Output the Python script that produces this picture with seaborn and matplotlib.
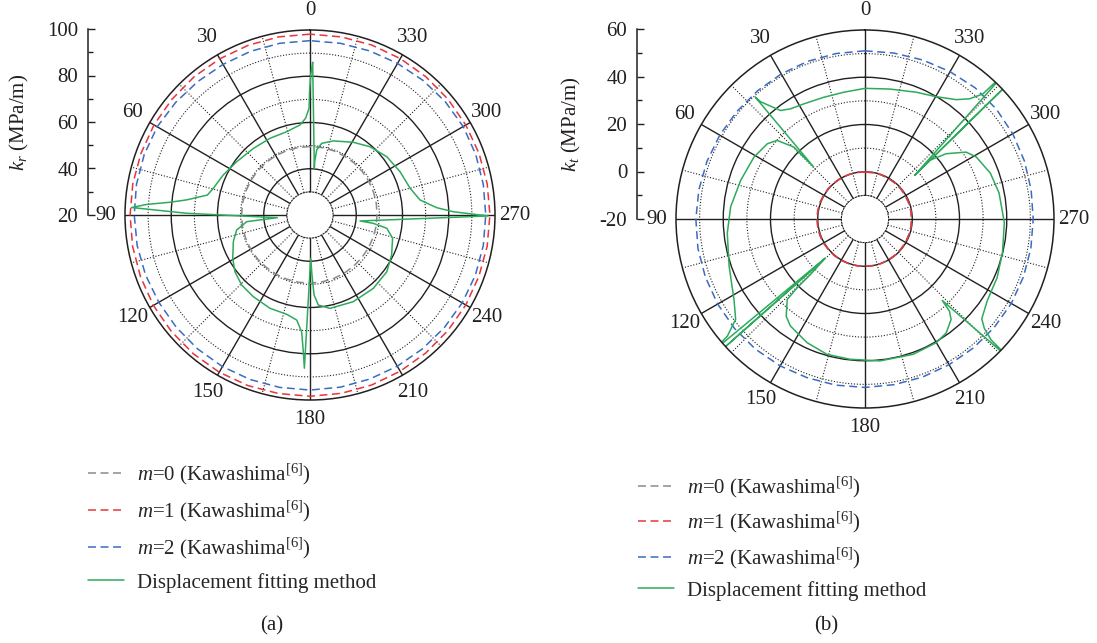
import numpy as np
import matplotlib
matplotlib.use("Agg")
import matplotlib.pyplot as plt
import seaborn as sns
from matplotlib.ticker import FixedLocator

# ---------------- data ----------------
grid_deg = list(range(0, 361, 10))

# panel (a): k_r, radial range 20..100
a_m0 = [49.6, 49.6, 49.6, 49.6, 49.6, 49.6, 49.6, 49.6, 49.6, 49.6,
        49.6, 49.6, 49.6, 49.6, 49.5, 49.5, 49.5, 49.5, 49.5, 49.4,
        49.3, 49.2, 49.1, 49.0, 49.0, 49.0, 49.0, 49.0, 49.1, 49.2,
        49.3, 49.4, 49.5, 49.5, 49.6, 49.6, 49.6]
a_m1 = [98.2, 98.2, 98.1, 98.0, 98.0, 97.9, 97.9, 97.8, 97.8, 97.8,
        97.9, 98.0, 98.2, 98.3, 98.4, 98.5, 98.5, 98.4, 98.4, 98.3,
        98.2, 98.0, 97.9, 97.8, 97.8, 97.7, 97.8, 97.8, 97.8, 97.8,
        97.8, 97.9, 98.0, 98.1, 98.2, 98.2, 98.2]
a_m2 = [95.4, 95.4, 95.3, 95.2, 95.4, 95.8, 96.3, 96.3, 96.2, 96.0,
        95.9, 95.7, 95.5, 95.5, 95.6, 95.7, 95.7, 95.7, 95.7, 95.6,
        95.5, 95.5, 95.6, 95.8, 96.0, 96.1, 96.1, 96.0, 96.1, 96.3,
        96.5, 96.3, 96.0, 95.7, 95.5, 95.4, 95.4]
a_fit_deg = [-1.0, -0.3, 0.2, 0.5, 2.6, 6.3, 15.6, 27.5, 40.4, 54.0,
             65.2, 74.6, 79.0, 83.0, 84.8, 86.3, 87.6, 89.2, 94.7, 96.0,
             101.6, 109.2, 119.3, 127.1, 135.7, 145.2, 156.8, 166.8, 172.8, 175.9,
             177.2, 177.9, 180.9, 181.9, 182.9, 185.3, 192.1, 206.5, 220.8, 233.5,
             243.9, 254.3, 260.2, 262.5, 263.2, 269.7, 271.3, 273.3, 277.8, 285.0,
             295.7, 307.2, 318.7, 329.2, 342.5, 350.7, 354.1, 355.0, 354.7, 359.0]
a_fit_r = [86.0, 80.6, 73.4, 66.2, 61.9, 59.2, 57.4, 57.4, 57.8, 59.2,
           61.3, 63.4, 65.2, 73.7, 80.8, 90.8, 97.2, 73.3, 34.2, 47.5,
           52.4, 55.1, 58.3, 60.7, 62.3, 63.0, 63.9, 64.1, 65.8, 70.6,
           79.2, 86.3, 38.7, 46.0, 54.6, 59.1, 61.3, 61.9, 61.9, 61.3,
           59.3, 57.1, 53.7, 47.6, 41.8, 97.0, 82.0, 74.9, 68.0, 64.8,
           63.2, 61.7, 59.3, 56.6, 53.6, 51.4, 48.3, 43.1, 40.3, 86.0]

# panel (b): k_t, radial range -20..60
b_m0 = [-0.1, 0.0, 0.0, 0.1, 0.1, 0.2, 0.2, 0.3, 0.3, 0.3,
        0.3, 0.3, 0.3, 0.2, 0.2, 0.2, 0.1, 0.1, 0.1, 0.0,
        0.0, -0.1, -0.1, -0.2, -0.2, -0.3, -0.3, -0.3, -0.3, -0.3,
        -0.3, -0.2, -0.2, -0.2, -0.1, -0.1, -0.1]
b_m1 = [-0.1, 0.0, 0.0, 0.1, 0.1, 0.2, 0.2, 0.3, 0.3, 0.3,
        0.3, 0.3, 0.3, 0.2, 0.2, 0.2, 0.1, 0.1, 0.1, 0.0,
        0.0, -0.1, -0.1, -0.2, -0.2, -0.3, -0.3, -0.3, -0.3, -0.3,
        -0.3, -0.2, -0.2, -0.2, -0.1, -0.1, -0.1]
b_m2 = [51.2, 51.1, 51.0, 50.9, 50.8, 50.8, 51.0, 51.2, 51.4, 51.6,
        51.8, 51.9, 52.0, 52.1, 52.0, 51.8, 51.5, 51.4, 51.3, 51.2,
        51.2, 51.2, 51.3, 51.4, 51.5, 51.4, 51.3, 51.2, 51.4, 51.8,
        52.2, 52.5, 52.5, 52.0, 51.6, 51.3, 51.2]
b_fit_deg = [42.0, 44.6, 44.7, 48.2, 52.4, 60.8, 72.7, 84.8, 95.9, 109.2,
             121.6, 127.8, 130.4, 131.0, 134.5, 132.4, 134.5, 135.5, 135.4, 136.0,
             141.0, 145.1, 154.9, 164.3, 173.9, 186.0, 199.6, 210.0, 215.5, 220.6,
             222.5, 223.5, 226.0, 226.2, 227.5, 229.5, 236.4, 246.0, 256.3, 268.5,
             281.0, 290.1, 299.2, 303.5, 308.8, 312.2, 311.3, 313.4, 311.4, 316.2,
             316.7, 319.0, 322.6, 329.8, 337.9, 349.2, 360.0, 369.7, 378.8, 388.1,
             394.1, 397.9, 399.8, 401.7, 402.0]
b_fit_r = [49.3, 11.0, 22.9, 29.9, 32.2, 33.8, 35.1, 37.1, 38.6, 40.9,
           45.1, 49.3, 56.5, 66.0, 3.6, 66.0, 3.8, 13.0, 21.0, 27.4,
           33.0, 35.2, 37.8, 39.5, 39.7, 40.4, 40.8, 40.4, 39.2, 36.0,
           32.9, 27.5, 66.0, 54.0, 48.5, 45.0, 42.2, 41.2, 39.9, 39.0,
           37.8, 36.5, 33.9, 31.3, 24.1, 17.0, 8.0, 66.0, 8.3, 66.0,
           52.7, 47.4, 43.6, 39.9, 37.9, 36.0, 35.3, 34.4, 34.4, 35.2,
           36.3, 38.2, 42.0, 46.5, 49.3]

angle_labels = [str(a) for a in range(0, 360, 30)]
legend_labels = [r"$m$=0 (Kawashima$^{[6]}$)",
                 r"$m$=1 (Kawashima$^{[6]}$)",
                 r"$m$=2 (Kawashima$^{[6]}$)",
                 "Displacement fitting method"]

# ---------------- style ----------------
sns.set_theme(style="white")
plt.rcParams['font.family'] = ['Liberation Serif', 'DejaVu Serif']
plt.rcParams['mathtext.fontset'] = 'custom'
plt.rcParams['mathtext.rm'] = 'Liberation Serif'
plt.rcParams['mathtext.it'] = 'Liberation Serif:italic'
plt.rcParams['mathtext.bf'] = 'Liberation Serif:bold'

INK = '#231f20'
GRAY = '#8a8a8a'
RED = '#e8343b'
BLUE = '#3a6cc0'
GREEN = '#2eaa5c'
FS = 15
DASH = (0, (5.2, 3.0))
DOT = (0, (1.0, 1.6))

W, H = 1097, 643
fig = plt.figure(figsize=(W / 100, H / 100), dpi=100)


def px_rect(cx, cy, R):
    return [(cx - R) / W, (H - (cy + R)) / H, 2 * R / W, 2 * R / H]


def draw_panel(cx, cy, R, rorigin, rmin, rmax, major_r, minor_r,
               m0, m1, m2, fit_deg, fit_r):
    ax = fig.add_axes(px_rect(cx, cy, R), projection='polar')
    th = np.deg2rad(grid_deg)
    sns.lineplot(x=th, y=m0, ax=ax, sort=False, estimator=None, color=GRAY,
                 lw=1.1, linestyle=DASH, label=legend_labels[0])
    sns.lineplot(x=th, y=m1, ax=ax, sort=False, estimator=None, color=RED,
                 lw=1.1, linestyle=DASH, label=legend_labels[1])
    sns.lineplot(x=th, y=m2, ax=ax, sort=False, estimator=None, color=BLUE,
                 lw=1.1, linestyle=DASH, label=legend_labels[2])
    sns.lineplot(x=np.deg2rad(fit_deg), y=fit_r, ax=ax, sort=False,
                 estimator=None, color=GREEN, lw=1.1, label=legend_labels[3])
    ax.set_theta_zero_location('N')
    ax.set_theta_direction(1)
    ax.set_rorigin(rorigin)
    ax.set_ylim(rmin, rmax)
    ax.set_xticks(np.deg2rad(np.arange(0, 360, 30)))
    ax.set_xticklabels(angle_labels, fontsize=FS, color=INK)
    ax.xaxis.set_minor_locator(FixedLocator(np.deg2rad(np.arange(15, 360, 30))))
    ax.set_yticks(major_r)
    ax.yaxis.set_minor_locator(FixedLocator(minor_r))
    ax.set_yticklabels([])
    ax.tick_params(which='both', length=0)
    ax.tick_params(axis='x', pad=7)
    ax.set_axisbelow(True)
    ax.grid(True, which='major', color=INK, lw=1.0, ls='-')
    ax.grid(True, which='minor', color=INK, lw=0.8, ls=DOT)
    ax.spines['polar'].set_color(INK)
    ax.spines['polar'].set_linewidth(1.1)
    ax.spines['inner'].set_color(INK)
    ax.spines['inner'].set_linewidth(0.8)
    ax.spines['inner'].set_linestyle(DOT)
    ax.set_xlabel('')
    ax.set_ylabel('')
    handles, labels = ax.get_legend_handles_labels()
    if ax.get_legend() is not None:
        ax.get_legend().remove()
    return ax, handles, labels


def draw_scale(x, ytop, ybot, lo, hi, label, label_x):
    sax = fig.add_axes([x / W, (H - ybot) / H, 0.0005, (ybot - ytop) / H])
    sax.set_facecolor('none')
    for s in ['top', 'right', 'bottom']:
        sax.spines[s].set_visible(False)
    sax.spines['left'].set_color(INK)
    sax.spines['left'].set_linewidth(1.1)
    sax.set_xticks([])
    sax.set_ylim(lo, hi)
    sax.set_yticks(np.arange(lo, hi + 1, 20))
    sax.yaxis.set_minor_locator(FixedLocator(np.arange(lo + 10, hi, 20)))
    sax.set_yticklabels([str(v) for v in np.arange(lo, hi + 1, 20)])
    sax.tick_params(axis='y', which='both', left=True, right=False)
    sax.tick_params(axis='y', which='major', direction='in', length=5,
                    width=1.0, color=INK, labelsize=FS, labelcolor=INK, pad=7)
    sax.tick_params(axis='y', which='minor', direction='in', length=3.5,
                    width=1.0, color=INK)
    sax.set_ylabel(label, fontsize=FS, color=INK)
    sax.yaxis.set_label_coords(label_x / W, (H - (ytop + ybot) / 2) / H,
                               transform=fig.transFigure)
    return sax


ax_a, ha, la = draw_panel(310, 215, 185, 20, 30, 100, [40, 60, 80], [50, 70, 90],
                          a_m0, a_m1, a_m2, a_fit_deg, a_fit_r)
ax_b, hb, lb = draw_panel(865, 219, 189, -20, -10, 60, [0, 20, 40], [10, 30, 50],
                          b_m0, b_m1, b_m2, b_fit_deg, b_fit_r)

draw_scale(88, 29, 215, 20, 100, r"$k_r$ (MPa/m)", 31)
draw_scale(637, 29, 219, -20, 60, r"$k_t$ (MPa/m)", 583)

fig.legend(ha, la, loc='upper left', bbox_to_anchor=(88 / W, 1 - 462 / H),
           frameon=False, fontsize=FS, handlelength=1.75, handletextpad=0.58,
           labelspacing=0.56, borderaxespad=0, borderpad=0)
fig.legend(hb, lb, loc='upper left', bbox_to_anchor=(638 / W, 1 - 475 / H),
           frameon=False, fontsize=FS, handlelength=1.75, handletextpad=0.58,
           labelspacing=0.48, borderaxespad=0, borderpad=0)

fig.text(272 / W, 1 - 626 / H, '(a)', ha='center', va='center', fontsize=FS, color=INK)
fig.text(826 / W, 1 - 626 / H, '(b)', ha='center', va='center', fontsize=FS, color=INK)

fig.savefig('out.png', dpi=100, facecolor='white')
